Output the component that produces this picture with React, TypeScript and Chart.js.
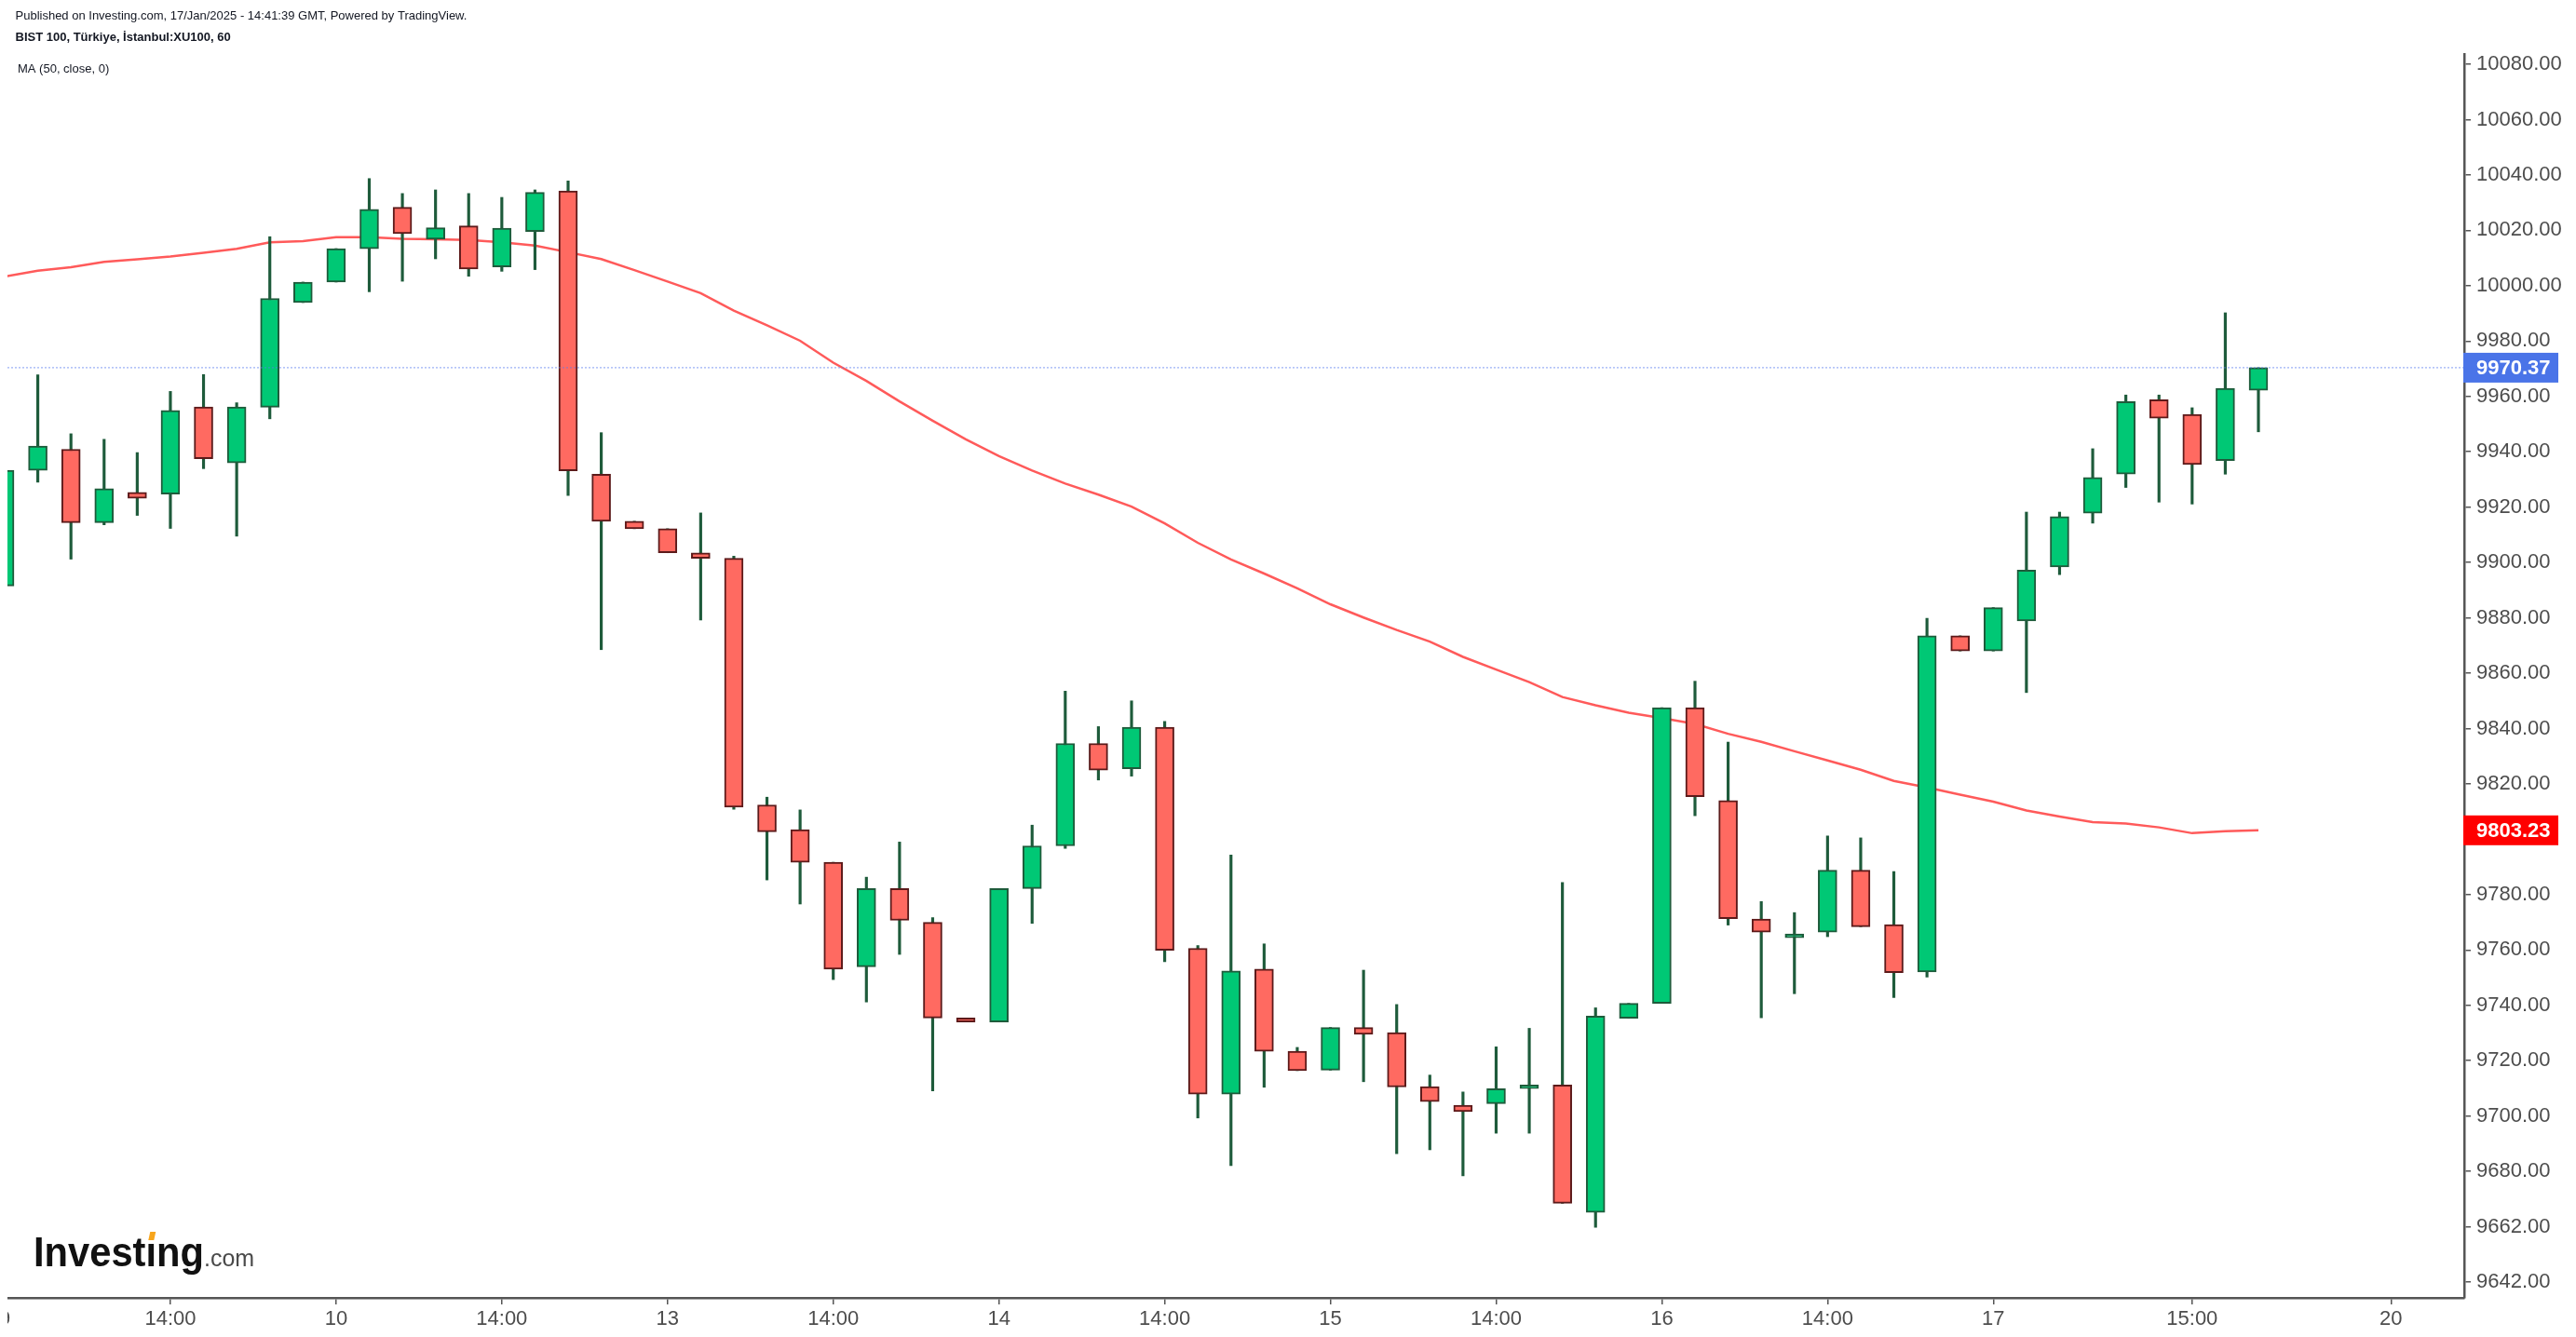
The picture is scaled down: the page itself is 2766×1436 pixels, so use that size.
import { useEffect, useRef } from "react";
import { Chart, registerables } from "chart.js";

Chart.register(...registerables);

// ---- Data (hourly candles, BIST 100, 9 Jan 09:00 → 17 Jan 17:00) ----
const opens = [
  9891.5, 9933.3, 9940.9, 9914.4, 9925.3, 9924.7, 9956.2, 9936.0, 9956.1, 9993.9,
  10001.3, 10013.3, 10028.3, 10016.8, 10021.6, 10006.8, 10019.6, 10034.2, 9931.9, 9914.9,
  9912.2, 9903.5, 9901.5, 9812.4, 9803.5, 9791.7, 9753.9, 9782.2, 9770.0, 9735.4,
  9734.0, 9782.2, 9797.6, 9834.6, 9825.5, 9840.5, 9760.6, 9707.9, 9753.1, 9723.4,
  9716.6, 9732.0, 9730.1, 9710.6, 9703.9, 9704.5, 9709.9, 9711.2, 9665.2, 9735.3,
  9740.7, 9847.5, 9814.0, 9771.2, 9764.4, 9766.4, 9788.8, 9769.2, 9752.1, 9873.5,
  9868.0, 9878.9, 9898.4, 9917.8, 9931.9, 9958.8, 9953.5, 9936.8, 9962.2,
];
const highs = [
  9933.8, 9967.8, 9946.5, 9944.5, 9939.7, 9961.8, 9967.9, 9957.7, 10017.7, 10001.3,
  10013.4, 10038.7, 10033.3, 10034.6, 10033.3, 10031.9, 10034.6, 10037.8, 9946.9, 9914.9,
  9912.2, 9917.9, 9902.3, 9815.2, 9810.6, 9791.7, 9786.3, 9799.0, 9771.7, 9735.4,
  9782.2, 9805.1, 9853.5, 9840.7, 9850.0, 9842.6, 9761.6, 9794.3, 9762.2, 9724.8,
  9732.0, 9752.7, 9740.3, 9714.8, 9708.7, 9725.0, 9731.7, 9784.4, 9739.1, 9740.7,
  9847.5, 9857.1, 9835.1, 9777.5, 9773.5, 9801.2, 9800.5, 9788.3, 9879.8, 9873.5,
  9883.7, 9918.2, 9918.2, 9941.1, 9960.5, 9960.5, 9955.9, 9990.2, 9970.37,
];
const lows = [
  9890.7, 9929.0, 9901.2, 9913.6, 9917.0, 9912.3, 9933.9, 9909.5, 9951.9, 9993.9,
  10001.3, 9997.8, 10001.6, 10009.7, 10003.4, 10005.2, 10005.8, 9924.2, 9868.5, 9912.2,
  9903.5, 9879.2, 9810.8, 9785.3, 9776.6, 9749.3, 9741.2, 9758.4, 9709.1, 9734.0,
  9734.0, 9769.6, 9796.7, 9821.4, 9822.8, 9755.8, 9699.3, 9682.1, 9710.4, 9716.4,
  9716.6, 9712.4, 9686.4, 9687.8, 9678.4, 9693.8, 9693.8, 9668.5, 9659.8, 9735.3,
  9740.7, 9808.5, 9769.0, 9735.5, 9744.2, 9764.8, 9768.4, 9742.8, 9750.2, 9868.0,
  9868.0, 9853.0, 9895.6, 9914.2, 9927.1, 9921.8, 9921.1, 9931.9, 9947.2,
];
const closes = [
  9933.3, 9942.1, 9914.4, 9926.7, 9923.2, 9954.9, 9937.5, 9956.2, 9995.4, 10001.3,
  10013.4, 10027.6, 10018.8, 10020.9, 10006.0, 10020.8, 10033.7, 9933.1, 9914.9, 9912.2,
  9903.5, 9901.5, 9811.6, 9802.7, 9791.7, 9753.1, 9782.2, 9770.7, 9735.4, 9734.0,
  9782.2, 9797.6, 9834.6, 9825.0, 9840.5, 9759.9, 9707.9, 9752.4, 9723.4, 9716.4,
  9732.0, 9729.5, 9710.5, 9705.2, 9701.6, 9709.9, 9711.2, 9668.5, 9736.1, 9740.7,
  9847.5, 9815.4, 9771.3, 9766.4, 9765.8, 9788.8, 9768.4, 9751.8, 9873.5, 9868.0,
  9883.7, 9897.2, 9916.6, 9930.7, 9958.1, 9952.1, 9935.4, 9962.9, 9970.37,
];
const ma50 = [
  10003.3, 10005.4, 10006.7, 10008.6, 10009.5, 10010.5, 10011.9, 10013.3, 10015.7, 10016.1,
  10017.5, 10017.5, 10016.9, 10016.8, 10016.5, 10015.7, 10014.5, 10012.1, 10009.6, 10005.6,
  10001.5, 9997.3, 9991.0, 9985.7, 9980.1, 9972.2, 9965.6, 9958.2, 9951.2, 9944.5,
  9938.4, 9933.2, 9928.5, 9924.5, 9920.2, 9914.1, 9907.1, 9901.1, 9896.0, 9890.7,
  9884.9, 9880.1, 9875.6, 9871.4, 9865.9, 9861.3, 9856.8, 9851.4, 9848.4, 9845.7,
  9843.8, 9841.7, 9838.1, 9835.2, 9831.8, 9828.5, 9825.1, 9821.1, 9818.7, 9816.1,
  9813.6, 9810.4, 9808.2, 9806.2, 9805.7, 9804.3, 9802.2, 9802.9, 9803.23,
];

const xTickValues = [0, 5, 10, 15, 20, 25, 30, 35, 40, 45, 50, 55, 60, 66, 72];
const xTickLabels = ["9", "14:00", "10", "14:00", "13", "14:00", "14", "14:00", "15", "14:00", "16", "14:00", "17", "15:00", "20"];

const yTickValues = [
  9640, 9660, 9680, 9700, 9720, 9740, 9760, 9780, 9800, 9820, 9840, 9860, 9880,
  9900, 9920, 9940, 9960, 9980, 10000, 10020, 10040, 10060, 10080,
];
const yTickLabels = [
  "9642.00", "9662.00", "9680.00", "9700.00", "9720.00", "9740.00", "9760.00", "9780.00",
  "9800.00", "9820.00", "9840.00", "9860.00", "9880.00", "9900.00", "9920.00", "9940.00",
  "9960.00", "9980.00", "10000.00", "10020.00", "10040.00", "10060.00", "10080.00",
];

const lastPrice = 9970.37;
const lastMA = 9803.23;
const xMin = 0.084;
const xMax = 74.21;
const yMin = 9634.3;
const yMax = 10083.7;

const FONT = '"Liberation Sans", Arial, sans-serif';
const GREEN = "#00c875";
const GREEN_DARK = "#1e5b3b";
const RED = "#ff6a61";
const RED_DARK = "#5c1a1a";

const overlayPlugin = {
  id: "overlay",
  afterDraw(chart: any) {
    const ctx = chart.ctx as CanvasRenderingContext2D;
    const area = chart.chartArea;
    const yScale = chart.scales.y;
    ctx.save();
    // header
    ctx.textBaseline = "middle";
    ctx.textAlign = "left";
    ctx.fillStyle = "#131722";
    ctx.font = `13px ${FONT}`;
    ctx.fillText("Published on Investing.com, 17/Jan/2025 - 14:41:39 GMT, Powered by TradingView.", 8.5, 9.5);
    ctx.font = `bold 13px ${FONT}`;
    ctx.fillText("BIST 100, Türkiye, İstanbul:XU100, 60", 8.5, 32.5);
    ctx.font = `13px ${FONT}`;
    ctx.fillText("MA (50, close, 0)", 11, 66);

    // price boxes
    const boxes = [
      { v: lastPrice, bg: "#4a74e8", txt: lastPrice.toFixed(2) },
      { v: lastMA, bg: "#ff0000", txt: lastMA.toFixed(2) },
    ];
    for (const b of boxes) {
      const py = yScale.getPixelForValue(b.v);
      ctx.fillStyle = b.bg;
      ctx.fillRect(area.right - 1, py - 16, 102, 32);
      ctx.fillStyle = "#ffffff";
      ctx.font = `bold 22px ${FONT}`;
      ctx.textBaseline = "middle";
      ctx.fillText(b.txt, area.right + 13, py + 1);
    }

    // logo
    const lx = 28;
    const base = 1352;
    ctx.textBaseline = "alphabetic";
    ctx.font = `bold 44px ${FONT}`;
    const full = ctx.measureText("Investing").width;
    const sx = 183 / full;
    const beforeI = ctx.measureText("Invest").width;
    const iW = ctx.measureText("i").width;
    ctx.save();
    ctx.translate(lx, base);
    ctx.scale(sx, 1);
    ctx.fillStyle = "#111111";
    ctx.fillText("Investing", 0, 0);
    ctx.restore();
    // orange accent over the i
    const dotX = lx + (beforeI + iW / 2) * sx;
    ctx.fillStyle = "#ffffff";
    ctx.fillRect(dotX - 6, base - 34, 12, 10);
    ctx.fillStyle = "#f7a51c";
    ctx.beginPath();
    ctx.moveTo(dotX - 3, base - 28);
    ctx.lineTo(dotX + 3, base - 28);
    ctx.lineTo(dotX + 5, base - 37);
    ctx.lineTo(dotX - 1, base - 37);
    ctx.closePath();
    ctx.fill();
    ctx.font = `25px ${FONT}`;
    ctx.fillStyle = "#4a4a4a";
    ctx.fillText(".com", lx + 183, base);
    ctx.restore();
  },
};

export default function App() {
  const ref = useRef<HTMLCanvasElement | null>(null);

  useEffect(() => {
    if (!ref.current) return;
    const bodyColors = closes.map((c, i) => (c >= opens[i] ? GREEN : RED));
    const bodyBorders = closes.map((c, i) => (c >= opens[i] ? GREEN_DARK : RED_DARK));
    const axisFont = { family: FONT, size: 22 };

    const chart = new Chart(ref.current, {
      type: "bar",
      data: {
        datasets: [
          {
            type: "line",
            label: "last",
            data: [
              { x: xMin, y: lastPrice },
              { x: xMax, y: lastPrice },
            ],
            borderColor: "rgba(90,125,240,0.75)",
            borderWidth: 1,
            borderDash: [2, 2],
            pointRadius: 0,
            order: 0,
          } as any,
          {
            type: "bar",
            label: "body",
            data: opens.map((o, i) => ({ x: i, y: [o, closes[i]] })),
            backgroundColor: bodyColors,
            borderColor: bodyBorders,
            borderWidth: 2,
            borderSkipped: false,
            barThickness: 20,
            grouped: false,
            order: 1,
          } as any,
          {
            type: "bar",
            label: "wick",
            data: highs.map((h, i) => ({ x: i, y: [lows[i], h] })),
            backgroundColor: GREEN_DARK,
            borderWidth: 0,
            barThickness: 2.5,
            grouped: false,
            order: 2,
          } as any,
          {
            type: "line",
            label: "MA",
            data: ma50.map((v, i) => ({ x: i, y: v })),
            borderColor: "#ff5a5a",
            borderWidth: 2.5,
            pointRadius: 0,
            tension: 0,
            order: 3,
          } as any,
        ],
      },
      options: {
        animation: false,
        responsive: false,
        events: [],
        layout: { padding: { top: 50, left: 0, right: 0, bottom: 0 } },
        plugins: {
          legend: { display: false },
          tooltip: { enabled: false },
        },
        scales: {
          x: {
            type: "linear",
            min: xMin,
            max: xMax,
            offset: false,
            grid: {
              display: true,
              drawOnChartArea: false,
              drawTicks: true,
              tickLength: 7,
              color: "#555555",
              lineWidth: 1.5,
              offset: false,
            },
            border: { display: true, color: "#555555", width: 2.5 },
            ticks: {
              autoSkip: false,
              maxRotation: 0,
              minRotation: 0,
              padding: 3,
              color: "#4d4d4d",
              font: axisFont,
              callback: (_v: any, idx: number) => xTickLabels[idx],
            },
            afterBuildTicks: (s: any) => {
              s.ticks = xTickValues.map((v) => ({ value: v }));
            },
            afterFit: (s: any) => {
              s.paddingLeft = 0;
              s.paddingRight = 0;
              s.height = 34;
            },
          },
          y: {
            type: "linear",
            position: "right",
            min: yMin,
            max: yMax,
            beginAtZero: false,
            grid: {
              display: true,
              drawOnChartArea: false,
              drawTicks: true,
              tickLength: 7,
              color: "#555555",
              lineWidth: 1.5,
            },
            border: { display: true, color: "#555555", width: 2.5 },
            ticks: {
              padding: 6,
              color: "#4d4d4d",
              font: axisFont,
              callback: (_v: any, idx: number) => yTickLabels[idx],
            },
            afterBuildTicks: (s: any) => {
              s.ticks = yTickValues.map((v) => ({ value: v }));
            },
            afterFit: (s: any) => {
              s.paddingTop = 0;
              s.paddingBottom = 0;
              s.width = 112;
            },
          },
        },
      } as any,
      plugins: [overlayPlugin],
    });
    return () => chart.destroy();
  }, []);

  return (
    <div style={{ width: 2750, height: 1420 }}>
      <canvas ref={ref} width={2750} height={1420} style={{ display: "block" }} />
    </div>
  );
}
